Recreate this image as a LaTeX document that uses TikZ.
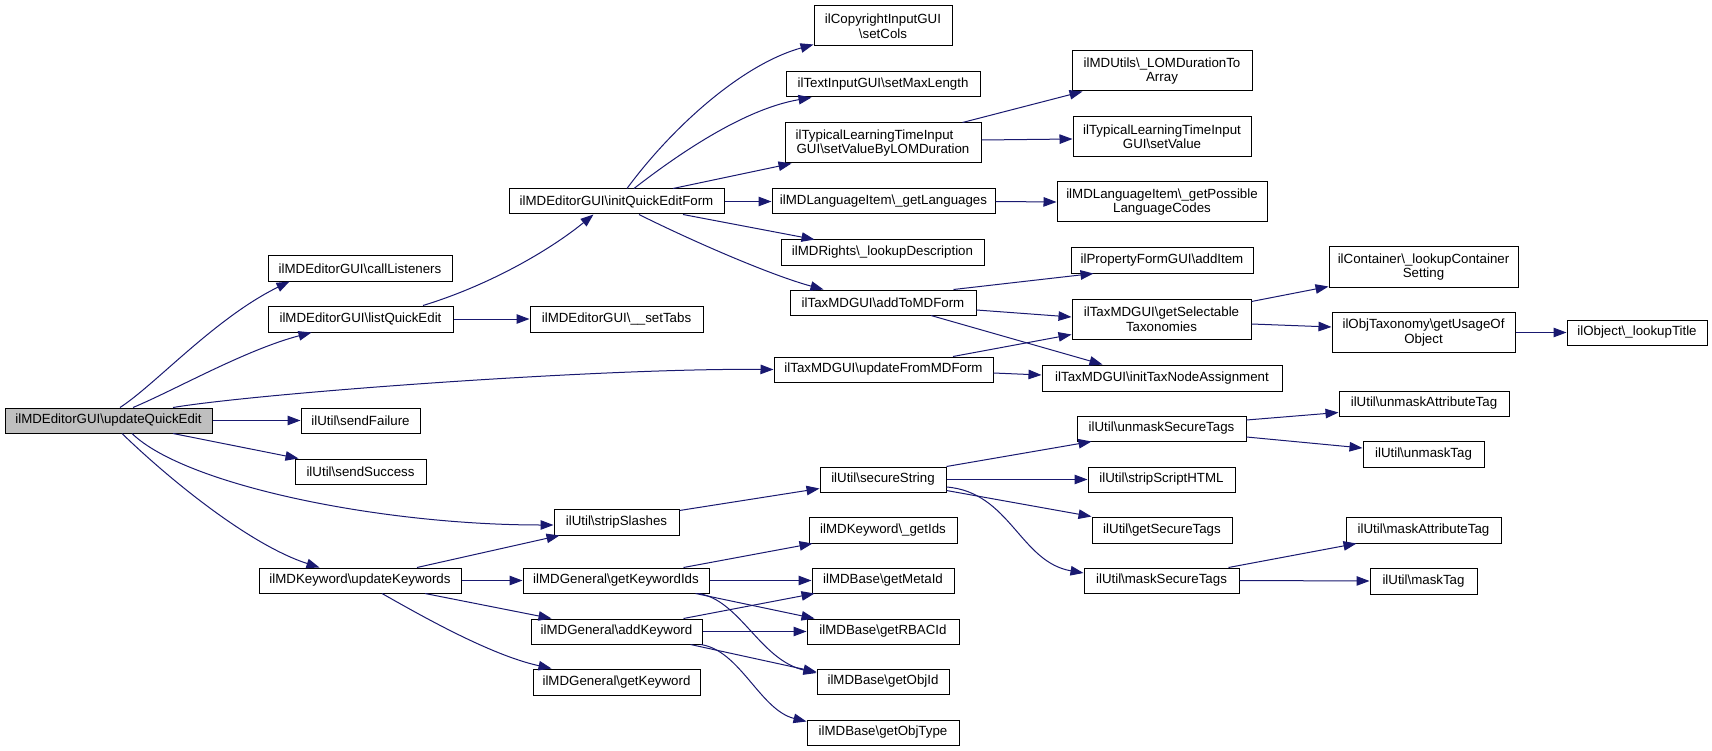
\documentclass[tikz,border=0pt]{standalone}
\usepackage{fontspec}
\setmainfont{Liberation Sans}
\usetikzlibrary{arrows.meta}
\definecolor{edgeblue}{HTML}{191970}
\definecolor{rootgray}{HTML}{BFBFBF}
\newcommand{\bsl}{\textbackslash{}}
\begin{document}
\begin{tikzpicture}[x=1pt,y=-1pt,
  box/.style={draw=black, line width=1pt, fill=white, inner sep=0pt,
    font=\fontsize{13.3}{14.5}\selectfont, align=center},
  sz/.style 2 args={minimum width=#1pt, minimum height=#2pt},
  edge/.style={draw=edgeblue, line width=1pt, -{Triangle[length=13pt,width=9.5pt]}}]
\fill[white] (0,0) rectangle (1712,751);
\useasboundingbox (0,0) rectangle (1712,751);

% column 1
\node[box,sz={207}{25},fill=rootgray] (uqe) at (108.5,420.5) {ilMDEditorGUI\bsl updateQuickEdit};
% column 2
\node[box,sz={184}{25}] (call) at (360,268.5) {ilMDEditorGUI\bsl callListeners};
\node[box,sz={185}{26}] (lqe) at (360.5,319) {ilMDEditorGUI\bsl listQuickEdit};
\node[box,sz={119}{25}] (failure) at (360.5,420.5) {ilUtil\bsl sendFailure};
\node[box,sz={131}{25}] (success) at (360.5,471.5) {ilUtil\bsl sendSuccess};
\node[box,sz={202}{25}] (updkw) at (360,580.5) {ilMDKeyword\bsl updateKeywords};
% column 3
\node[box,sz={215}{25}] (iqe) at (616.5,201.5) {ilMDEditorGUI\bsl initQuickEditForm};
\node[box,sz={173}{26}] (settabs) at (616.5,319) {ilMDEditorGUI\bsl \_\_setTabs};
\node[box,sz={125}{26}] (strip) at (616.5,522) {ilUtil\bsl stripSlashes};
\node[box,sz={186}{25}] (getkwids) at (616,580.5) {ilMDGeneral\bsl getKeywordIds};
\node[box,sz={171}{25}] (addkw) at (616.5,631.5) {ilMDGeneral\bsl addKeyword};
\node[box,sz={167}{26}] (getkw) at (616.5,682) {ilMDGeneral\bsl getKeyword};
% column 4
\node[box,sz={138}{40}] (setcols) at (883,26) {ilCopyrightInputGUI\\\bsl setCols};
\node[box,sz={194}{25}] (setmax) at (883,84.5) {ilTextInputGUI\bsl setMaxLength};
\node[box,sz={196}{40}] (setval) at (883,143) {ilTypicalLearningTimeInput\hspace*{17pt}\\GUI\bsl setValueByLOMDuration};
\node[box,sz={223}{25}] (getlang) at (883.5,201.5) {ilMDLanguageItem\bsl \_getLanguages};
\node[box,sz={203}{25}] (rights) at (882.5,252.5) {ilMDRights\bsl \_lookupDescription};
\node[box,sz={186}{25}] (addto) at (883,302.5) {ilTaxMDGUI\bsl addToMDForm};
\node[box,sz={219}{25}] (updfrom) at (883.5,369.5) {ilTaxMDGUI\bsl updateFromMDForm};
\node[box,sz={126}{25}] (secure) at (883,479.5) {ilUtil\bsl secureString};
\node[box,sz={148}{26}] (kwgetids) at (883,530) {ilMDKeyword\bsl \_getIds};
\node[box,sz={142}{25}] (metaid) at (883,580.5) {ilMDBase\bsl getMetaId};
\node[box,sz={152}{25}] (rbac) at (883,631.5) {ilMDBase\bsl getRBACId};
\node[box,sz={132}{25}] (objid) at (883,681.5) {ilMDBase\bsl getObjId};
\node[box,sz={152}{25}] (objtype) at (883,732.5) {ilMDBase\bsl getObjType};
% column 5
\node[box,sz={180}{40}] (lomdur) at (1162,71) {ilMDUtils\bsl \_LOMDurationTo\\Array};
\node[box,sz={178}{40}] (tltiset) at (1162,136.5) {ilTypicalLearningTimeInput\\GUI\bsl setValue};
\node[box,sz={210}{40}] (posslang) at (1162,202) {ilMDLanguageItem\bsl \_getPossible\\LanguageCodes};
\node[box,sz={182}{25}] (propadd) at (1162,260.5) {ilPropertyFormGUI\bsl addItem};
\node[box,sz={179}{40}] (getsel) at (1161.5,319) {ilTaxMDGUI\bsl getSelectable\\Taxonomies};
\node[box,sz={240}{26}] (inittax) at (1162,378) {ilTaxMDGUI\bsl initTaxNodeAssignment};
\node[box,sz={169}{25}] (unmasksec) at (1161.5,428.5) {ilUtil\bsl unmaskSecureTags};
\node[box,sz={147}{25}] (stripscript) at (1161.5,479.5) {ilUtil\bsl stripScriptHTML};
\node[box,sz={140}{26}] (getsectags) at (1162,530) {ilUtil\bsl getSecureTags};
\node[box,sz={155}{25}] (masksec) at (1161.5,580.5) {ilUtil\bsl maskSecureTags};
% column 6
\node[box,sz={189}{40}] (container) at (1423.5,267) {ilContainer\bsl \_lookupContainer\\Setting};
\node[box,sz={183}{40}] (objtax) at (1423.5,332.5) {ilObjTaxonomy\bsl getUsageOf\\Object};
\node[box,sz={170}{25}] (unmaskattr) at (1424,403.5) {ilUtil\bsl unmaskAttributeTag};
\node[box,sz={121}{26}] (unmasktag) at (1423.5,454) {ilUtil\bsl unmaskTag};
\node[box,sz={155}{26}] (maskattr) at (1423.5,530) {ilUtil\bsl maskAttributeTag};
\node[box,sz={107}{26}] (masktag) at (1423.5,581) {ilUtil\bsl maskTag};
% column 7
\node[box,sz={140}{25}] (lookuptitle) at (1637,332.5) {ilObject\bsl \_lookupTitle};

% edges from updateQuickEdit
\draw[edge] ([xshift=11.5pt]uqe.north) .. controls (155,385) and (215,318) .. ([xshift=22pt]call.south west);
\draw[edge] ([xshift=24.5pt]uqe.north) .. controls (175,390) and (245,350) .. ([xshift=44pt]lqe.south west);
\draw[edge] ([xshift=64.5pt]uqe.north) .. controls (260,393) and (600,368) .. (updfrom.west);
\draw[edge] (uqe.east) -- (failure.west);
\draw[edge] ([xshift=64.5pt]uqe.south) -- ([xshift=4pt]success.north west);
\draw[edge] ([xshift=23.5pt]uqe.south) .. controls (185,485) and (380,525) .. ([yshift=-3pt]strip.west);
\draw[edge] ([xshift=13.5pt]uqe.south) .. controls (170,480) and (250,545) .. ([xshift=61pt]updkw.north west);
% listQuickEdit
\draw[edge] ([xshift=62.5pt]lqe.north) .. controls (490,285) and (550,250) .. ([xshift=85pt]iqe.south west);
\draw[edge] (lqe.east) -- (settabs.west);
% initQuickEditForm
\draw[edge] ([xshift=10.5pt]iqe.north) .. controls (670,130) and (740,65) .. ([yshift=2pt]setcols.south west);
\draw[edge] ([xshift=17.5pt]iqe.north) .. controls (690,145) and (750,108) .. ([xshift=26pt]setmax.south west);
\draw[edge] ([xshift=56.5pt]iqe.north) -- ([xshift=7pt]setval.south west);
\draw[edge] (iqe.east) -- (getlang.west);
\draw[edge] ([xshift=66.5pt]iqe.south) -- ([xshift=34pt]rights.north west);
\draw[edge] ([xshift=22.5pt]iqe.south) .. controls (690,240) and (770,275) .. ([xshift=34pt]addto.north west);
% setValueByLOMDuration
\draw[edge] ([xshift=-19pt]setval.north east) -- ([xshift=11pt]lomdur.south west);
\draw[edge] ([yshift=3pt]setval.east) -- ([yshift=-2.5pt]tltiset.west);
% getLanguages
\draw[edge] (getlang.east) -- (posslang.west);
% addToMDForm
\draw[edge] ([xshift=-23pt]addto.north east) -- ([xshift=23pt]propadd.south west);
\draw[edge] ([yshift=-7.5pt]addto.east) -- ([yshift=2pt]getsel.west);
\draw[edge] ([xshift=48pt]addto.south) -- ([xshift=61pt]inittax.north west);
% updateFromMDForm
\draw[edge] ([xshift=69.5pt]updfrom.north) -- ([yshift=5pt]getsel.south west);
\draw[edge] ([yshift=-3.5pt]updfrom.east) -- ([yshift=3pt]inittax.west);
% getSelectableTaxonomies
\draw[edge] ([yshift=-3pt]getsel.north east) -- ([yshift=1pt]container.south west);
\draw[edge] ([yshift=-5pt]getsel.east) -- ([yshift=5.5pt]objtax.west);
% getUsageOfObject
\draw[edge] (objtax.east) -- (lookuptitle.west);
% stripSlashes
\draw[edge] ([yshift=-2pt]strip.north east) -- ([yshift=4pt]secure.south west);
% updateKeywords
\draw[edge] ([xshift=57pt]updkw.north) -- ([xshift=6pt]strip.south west);
\draw[edge] (updkw.east) -- (getkwids.west);
\draw[edge] ([xshift=65pt]updkw.south) -- ([xshift=21pt]addkw.north west);
\draw[edge] ([xshift=22pt]updkw.south) .. controls (420,615) and (490,655) .. ([xshift=19pt]getkw.north west);
% secureString
\draw[edge] (secure.north east) -- ([xshift=15pt]unmasksec.south west);
\draw[edge] (secure.east) -- (stripscript.west);
\draw[edge] ([yshift=2pt]secure.south east) -- (getsectags.north west);
\draw[edge] ([yshift=-7.5pt]secure.east) .. controls (1010,492) and (1020,562) .. ([yshift=7.5pt]masksec.west);
% unmaskSecureTags
\draw[edge] ([yshift=8.5pt]unmasksec.east) -- ([yshift=4pt]unmaskattr.south west);
\draw[edge] ([yshift=-8.5pt]unmasksec.east) -- ([yshift=6pt]unmasktag.west);
% maskSecureTags
\draw[edge] ([xshift=-11pt]masksec.north east) -- ([xshift=11pt]maskattr.south west);
\draw[edge] (masksec.east) -- (masktag.west);
% getKeywordIds
\draw[edge] ([xshift=-26pt]getkwids.north east) -- ([xshift=4pt]kwgetids.south west);
\draw[edge] (getkwids.east) -- (metaid.west);
\draw[edge] ([xshift=-14pt]getkwids.south east) -- ([xshift=8pt]rbac.north west);
\draw[edge] ([xshift=-11pt]getkwids.south east) .. controls (740,600) and (760,660) .. ([yshift=8.5pt]objid.west);
% addKeyword
\draw[edge] ([xshift=-19pt]addkw.north east) -- ([xshift=3pt]metaid.south west);
\draw[edge] (addkw.east) -- (rbac.west);
\draw[edge] ([xshift=-12pt]addkw.south east) -- ([yshift=9.5pt]objid.west);
\draw[edge] ([xshift=-2pt]addkw.south east) .. controls (740,650) and (760,710) .. ([yshift=-2pt]objtype.north west);
\end{tikzpicture}
\end{document}
